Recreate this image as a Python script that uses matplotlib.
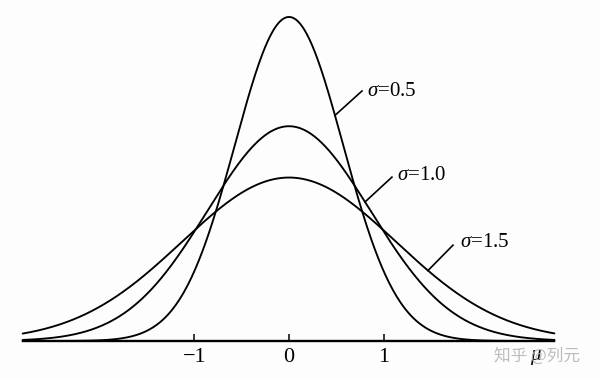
import matplotlib
matplotlib.use("Agg")
import matplotlib.pyplot as plt
import numpy as np

# ── Data ────────────────────────────────────────────────────────────────────
sigma_labels = ["0.5", "1.0", "1.5"]
drawn_width = [0.57, 0.86, 1.13]        # spread of each curve in tick units
x_range = (-2.81, 2.80)
tick_values = [-1, 0, 1]
tick_labels = ["\u22121", "0", "1"]

# label placement (text anchor, leader line start x / end point)
label_pos = [(0.823, 0.530), (1.139, 0.348), (1.804, 0.203)]
leader_from_x = [0.485, 0.802, 1.466]
leader_to = [(0.770, 0.540), (1.086, 0.354), (1.730, 0.207)]


def density(x, s):
    return np.exp(-x ** 2 / (2 * s ** 2)) / (s * np.sqrt(2 * np.pi))


plt.rcParams["mathtext.fontset"] = "custom"
plt.rcParams["mathtext.it"] = "Liberation Serif:italic"
plt.rcParams["mathtext.rm"] = "Liberation Serif"

fig = plt.figure(figsize=(6, 3.81), dpi=100)
fig.patch.set_facecolor("#fdfdfd")
ax = fig.add_axes([0, 0, 1, 1])
ax.set_facecolor("#fdfdfd")
ax.set_xlim(-3.049, 3.281)
ax.set_ylim(-0.0864, 0.7365)

xs = np.linspace(x_range[0], x_range[1], 600)
for s in drawn_width:
    ax.plot(xs, density(xs, s), color="black", lw=1.35, solid_capstyle="round")

# axis line with upward ticks
for side in ["top", "left", "right"]:
    ax.spines[side].set_visible(False)
ax.spines["bottom"].set_position(("data", 0))
ax.spines["bottom"].set_bounds(*x_range)
ax.spines["bottom"].set_linewidth(1.7)
ax.set_yticks([])
ax.set_xticks(tick_values)
ax.set_xticklabels(tick_labels, family="Liberation Serif", fontsize=16)
ax.tick_params(axis="x", direction="in", length=5, width=1.1, pad=5)

# curve labels with leader lines
for lab, (tx, ty), fx, (ex, ey), s in zip(sigma_labels, label_pos,
                                          leader_from_x, leader_to, drawn_width):
    ax.plot([fx, ex], [density(fx, s), ey], color="black", lw=1.2)
    ax.text(tx, ty, r"$\sigma$=" + lab, family="Liberation Serif",
            fontsize=15, ha="left", va="baseline")

ax.text(2.60, -0.040, "\u03bc", family="Liberation Serif", style="italic",
        fontsize=15, ha="center", va="baseline", zorder=3)

# watermark
ax.text(2.62, -0.0324, "知乎 @列元", family=["Noto Sans CJK SC", "DejaVu Sans"],
        fontsize=12, color="#b5b5b5", alpha=0.9, ha="center", va="center", zorder=4)

fig.savefig("out.png", dpi=100, facecolor=fig.get_facecolor())
plt.close(fig)
